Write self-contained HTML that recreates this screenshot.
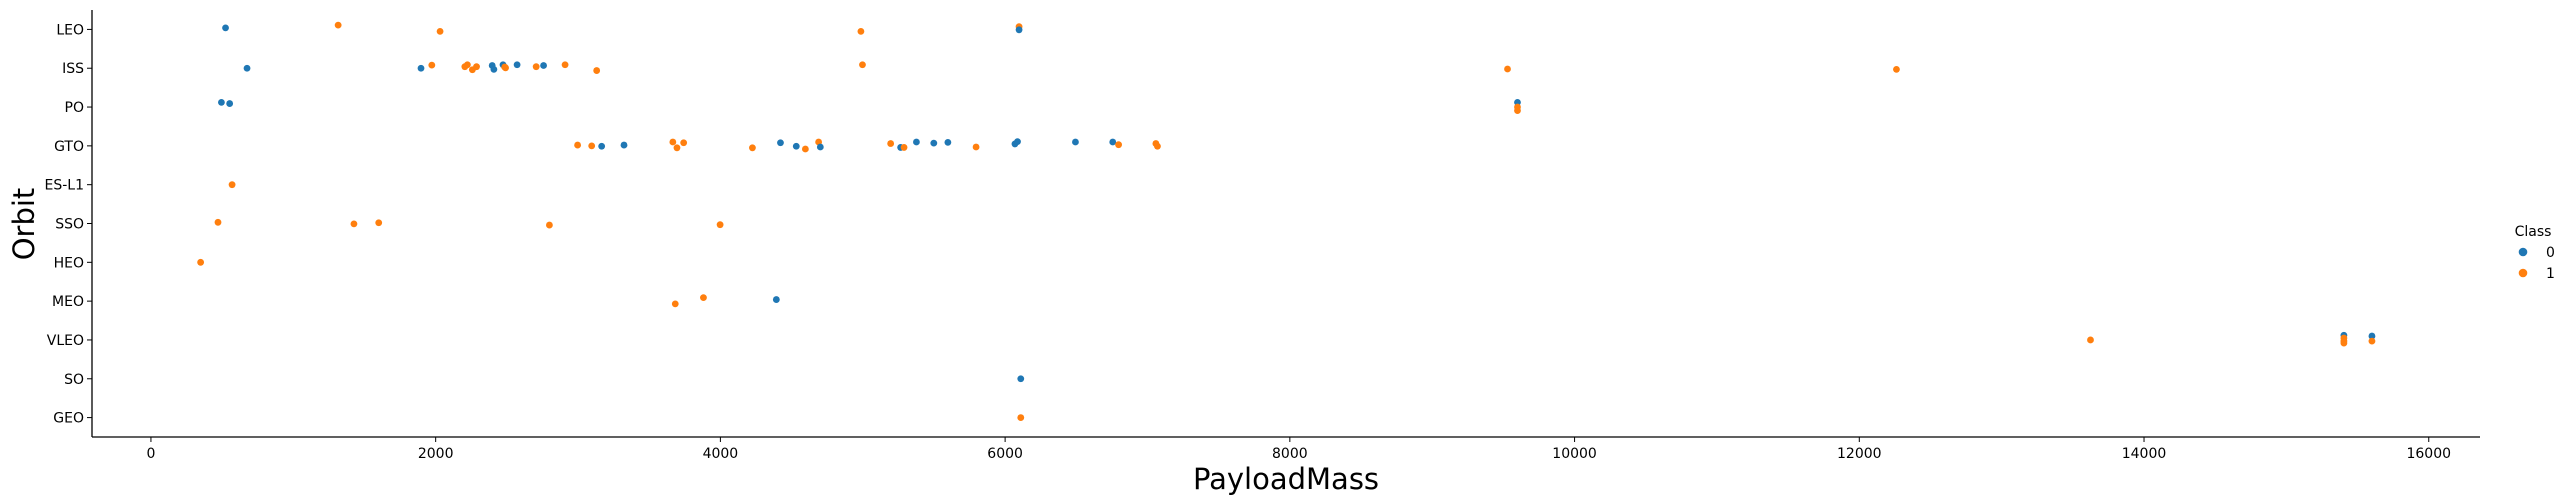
<!DOCTYPE html>
<html><head><meta charset="utf-8"><style>
body{margin:0;background:#fff;}
svg{display:block;font-family:"DejaVu Sans","Liberation Sans",sans-serif;}
</style></head><body>
<svg id="chart" width="2568" height="504" viewBox="0 0 2568 504" xmlns="http://www.w3.org/2000/svg"></svg>
<script>
const categories=["LEO","ISS","PO","GTO","ES-L1","SSO","HEO","MEO","VLEO","SO","GEO"];
const xTicks=[0,2000,4000,6000,8000,10000,12000,14000,16000];
const payload=[524,1315,2031,4987,6098,6098,
675,1897,1973,2205,2223,2258,2287,2397,2409,2473,2485,2491,2572,2758,2706,2909,3131,4998,9529,12261,
495,553,9599,9599,9599,
2997,3096,3166,3323,3666,3695,3742,4225,4422,4533,4597,4690,4702,5196,5266,5290,5377,5499,5598,5796,6069,6087,6494,6756,6797,7059,7070,
570,
471,1426,1600,2799,3998,
349,
3683,3881,4393,
13624,15404,15404,15404,15404,15601,15601,
6110,6110];
const orbit=[0,0,0,0,0,0,
1,1,1,1,1,1,1,1,1,1,1,1,1,1,1,1,1,1,1,1,
2,2,2,2,2,
3,3,3,3,3,3,3,3,3,3,3,3,3,3,3,3,3,3,3,3,3,3,3,3,3,3,3,
4,
5,5,5,5,5,
6,
7,7,7,
8,8,8,8,8,8,8,
9,10];
const cls=[0,1,1,1,1,0,
0,0,1,1,1,1,1,0,0,0,1,1,0,0,1,1,1,1,1,1,
0,0,0,1,1,
1,1,0,0,1,1,1,1,0,0,1,1,0,1,0,1,0,0,0,1,0,0,0,0,1,1,1,
1,
1,1,1,1,1,
1,
1,1,0,
1,0,1,1,1,0,1,
0,1];
const jitter=[-0.04,-0.11,0.05,0.05,-0.07,0.01,
0,0,-0.08,-0.04,-0.09,0.04,-0.04,-0.07,0.03,-0.09,-0.03,-0.01,-0.09,-0.07,-0.04,-0.09,0.06,-0.09,0.02,0.03,
-0.12,-0.09,-0.12,0,0.09,
-0.02,0,0.01,-0.02,-0.1,0.05,-0.08,0.05,-0.08,0.01,0.08,-0.1,0.03,-0.06,0.04,0.04,-0.1,-0.07,-0.09,0.03,-0.05,-0.11,-0.1,-0.1,-0.03,-0.06,0.01,
0,
-0.03,0.01,-0.02,0.04,0.03,
0,
0.07,-0.09,-0.04,
0,-0.12,-0.05,0.03,0.08,-0.1,0.03,
0,0];
const colors=["#1f77b4","#ff7f0e"];
const NS="http://www.w3.org/2000/svg";
const svg=document.getElementById("chart");
const X0=92,X1=2480,Y0=10,Y1=437;
const xMin=-414,xMax=16360;
function xs(v){return X0+(v-xMin)/(xMax-xMin)*(X1-X0);}
function ys(v){return Y0+(v+0.5)/categories.length*(Y1-Y0);}
function mk(t,a){const e=document.createElementNS(NS,t);for(const k in a)e.setAttribute(k,a[k]);svg.appendChild(e);return e;}
let e;
e=mk("line",{x1:X0,y1:Y0,x2:X0,y2:Y1,stroke:"#000","stroke-width":1.3});


e=mk("line",{x1:X0,y1:Y1,x2:X1,y2:Y1,stroke:"#000","stroke-width":1.3});


categories.forEach((c,i)=>{
  const y=ys(i);
  e=mk("line",{x1:X0-5,y1:y,x2:X0,y2:y,stroke:"#000","stroke-width":1});
  
  
  e=mk("text",{x:X0-8,y:y+5,"text-anchor":"end","font-size":14,fill:"#000"});
  e.textContent=c;
  
  
});
xTicks.forEach(t=>{
  const x=xs(t);
  e=mk("line",{x1:x,y1:Y1,x2:x,y2:Y1+5,stroke:"#000","stroke-width":1});
  
  
  e=mk("text",{x:x,y:Y1+21,"text-anchor":"middle","font-size":14,fill:"#000"});
  e.textContent=t;
  
  
});
e=mk("text",{x:(X0+X1)/2,y:489,"text-anchor":"middle","font-size":29,fill:"#000"});
e.textContent="PayloadMass";


e=mk("text",{x:0,y:0,"text-anchor":"middle","font-size":29,fill:"#000",transform:"translate(34,224) rotate(-90)"});
e.textContent="Orbit";


payload.forEach((v,i)=>{
  e=mk("circle",{cx:xs(v),cy:ys(orbit[i]+jitter[i]),r:3.4,fill:colors[cls[i]]});
  
  
});
e=mk("text",{x:2533,y:236,"text-anchor":"middle","font-size":14,fill:"#000"});
e.textContent="Class";


["0","1"].forEach((l,i)=>{
  const y=252+i*21;
  e=mk("circle",{cx:2523,cy:y,r:4.3,fill:colors[i]});
  
  
  e=mk("text",{x:2546,y:y+5,"font-size":14,fill:"#000"});
  e.textContent=l;
  
  
});
</script>
</body></html>
